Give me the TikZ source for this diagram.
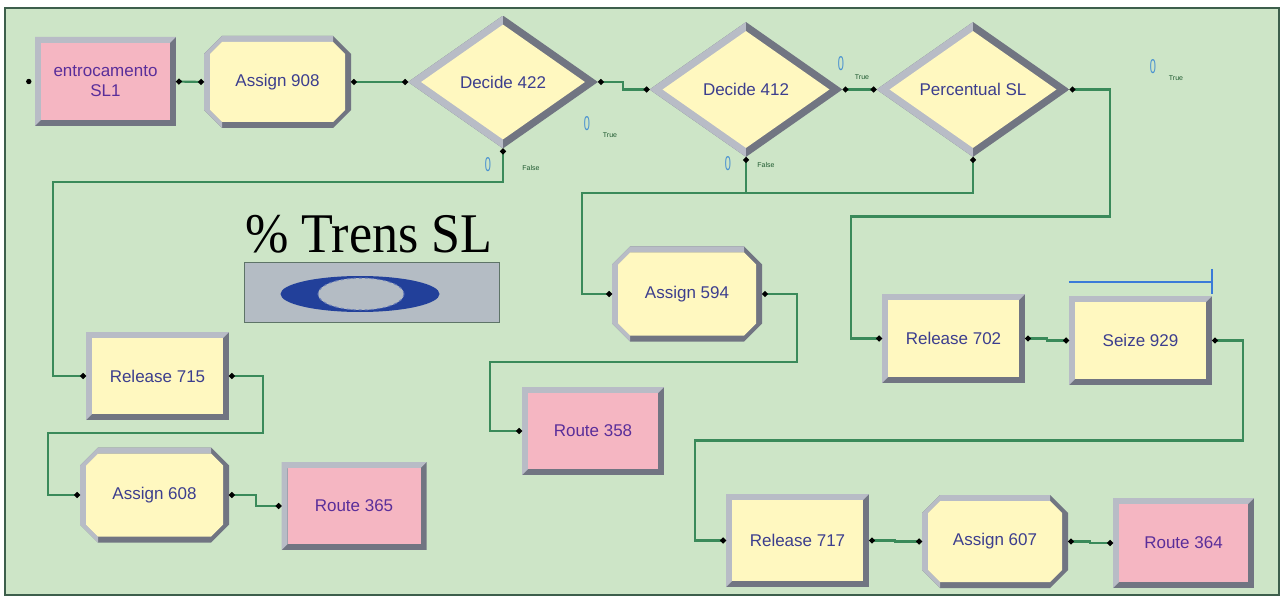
\documentclass[tikz,border=0pt]{standalone}
\usepackage{fontspec}
\setmainfont{Liberation Sans}
\newfontfamily\serifT{Liberation Serif}
\usetikzlibrary{shapes.geometric,arrows.meta,calc}
\definecolor{bg}{HTML}{CDE5C7}
\definecolor{frame}{HTML}{3D5F4C}
\definecolor{yel}{HTML}{FFF8C0}
\definecolor{pink}{HTML}{F5B6C2}
\definecolor{blight}{HTML}{B8BCC6}
\definecolor{bdark}{HTML}{717582}
\definecolor{txtyel}{HTML}{3C3E8E}
\definecolor{txtpink}{HTML}{5A2E9A}
\definecolor{lgreen}{HTML}{3A8A5A}
\definecolor{zblue}{HTML}{4A92D0}
\definecolor{tgreen}{HTML}{1F5A30}
\definecolor{ggray}{HTML}{B4BCC4}
\definecolor{rectedge}{HTML}{5E7468}
\definecolor{eblue}{HTML}{22409A}
\definecolor{qblue}{HTML}{3A7AD8}
\tikzset{
  mydot/.tip={Circle[length=5.5pt,color=black]},
  conn/.style={draw=lgreen, line width=2.2pt, mydot-mydot},
  lbl/.style={font=\fontsize{17}{20}\selectfont, align=center},
  rectbevel/.style={path picture={
    \fill[bdark] (path picture bounding box.south west) rectangle (path picture bounding box.north east);
    \fill[blight] (path picture bounding box.south west) -- (path picture bounding box.north west) -- (path picture bounding box.north east) -- ([xshift=-6pt,yshift=-6pt]path picture bounding box.north east) -- ([xshift=6pt,yshift=-6pt]path picture bounding box.north west) -- ([xshift=6pt,yshift=6pt]path picture bounding box.south west) -- cycle;
    \fill[#1] ([xshift=6pt,yshift=-6pt]path picture bounding box.north west) rectangle ([xshift=-6pt,yshift=6pt]path picture bounding box.south east);
  }},
  octbevel/.style={path picture={
    \fill[bdark] ([xshift=18pt]path picture bounding box.north west) -- ([xshift=-18pt]path picture bounding box.north east) -- ([yshift=-18pt]path picture bounding box.north east) -- ([yshift=18pt]path picture bounding box.south east) -- ([xshift=-18pt]path picture bounding box.south east) -- ([xshift=18pt]path picture bounding box.south west) -- ([yshift=18pt]path picture bounding box.south west) -- ([yshift=-18pt]path picture bounding box.north west) -- cycle;
    \fill[blight] ([xshift=18pt]path picture bounding box.south west) -- ([yshift=18pt]path picture bounding box.south west) -- ([yshift=-18pt]path picture bounding box.north west) -- ([xshift=18pt]path picture bounding box.north west) -- ([xshift=-18pt]path picture bounding box.north east) -- ([xshift=-18pt,yshift=-6pt]path picture bounding box.north east) -- ([xshift=18pt,yshift=-6pt]path picture bounding box.north west) -- ([xshift=6pt,yshift=-18pt]path picture bounding box.north west) -- ([xshift=6pt,yshift=18pt]path picture bounding box.south west) -- ([xshift=18pt,yshift=6pt]path picture bounding box.south west) -- cycle;
    \fill[#1] ([xshift=18pt,yshift=-6pt]path picture bounding box.north west) -- ([xshift=-18pt,yshift=-6pt]path picture bounding box.north east) -- ([xshift=-6pt,yshift=-18pt]path picture bounding box.north east) -- ([xshift=-6pt,yshift=18pt]path picture bounding box.south east) -- ([xshift=-18pt,yshift=6pt]path picture bounding box.south east) -- ([xshift=18pt,yshift=6pt]path picture bounding box.south west) -- ([xshift=6pt,yshift=18pt]path picture bounding box.south west) -- ([xshift=6pt,yshift=-18pt]path picture bounding box.north west) -- cycle;
  }},
  diabevel/.style={path picture={
    \fill[bdark] (path picture bounding box.south west) rectangle (path picture bounding box.north east);
    \fill[blight] (path picture bounding box.south west) rectangle (path picture bounding box.north);
    \fill[yel] ([xshift=13pt]path picture bounding box.west) -- ([yshift=-9pt]path picture bounding box.north) -- ([xshift=-13pt]path picture bounding box.east) -- ([yshift=9pt]path picture bounding box.south) -- cycle;
  }},
  ybox/.style={rectangle, inner sep=0pt, lbl, text=txtyel, rectbevel=yel},
  pbox/.style={rectangle, inner sep=0pt, lbl, text=txtpink, rectbevel=pink},
  obox/.style={rectangle, inner sep=0pt, lbl, text=txtyel, octbevel=yel},
  dbox/.style={diamond, aspect=1.43, inner sep=0pt, lbl, text=txtyel, diabevel},
  zero/.style={font=\fontsize{20}{20}\selectfont, text=zblue, xscale=0.55, inner sep=0pt},
  tf/.style={font=\fontsize{7}{7}\selectfont, text=tgreen, inner sep=0pt},
}
\begin{document}
\begin{tikzpicture}[x=1pt,y=-1pt]
\useasboundingbox (0,0) rectangle (1280,596);
\fill[white] (0,0) rectangle (1280,596);
\draw[fill=bg, draw=frame, line width=1.5pt] (5,8) rectangle (1279,595);

% top row
\node[pbox, minimum width=141pt, minimum height=89pt] (entro) at (105.5,81.5) {entrocamento\\SL1};
\node[obox, minimum width=147pt, minimum height=92pt] (a908) at (277.5,82) {Assign 908};
\node[dbox, minimum width=190pt, minimum height=133pt] (d422) at (503,82) {Decide 422};
\node[dbox, minimum width=193pt, minimum height=135pt] (d412) at (746,89.5) {Decide 412};
\node[dbox, minimum width=193pt, minimum height=135pt] (psl) at (973,89.5) {Percentual SL};

% left column
\node[ybox, minimum width=143pt, minimum height=88pt] (r715) at (157.5,376) {Release 715};
\node[obox, minimum width=149pt, minimum height=95pt] (a608) at (154.5,495) {Assign 608};
\node[pbox, minimum width=145pt, minimum height=88pt] (rt365) at (354,506) {Route 365};

% middle
\node[obox, minimum width=150pt, minimum height=95pt] (a594) at (687,294) {Assign 594};
\node[pbox, minimum width=142pt, minimum height=88pt] (rt358) at (593,431) {Route 358};

% right
\node[ybox, minimum width=143pt, minimum height=89pt] (r702) at (953.5,338.5) {Release 702};
\node[ybox, minimum width=143pt, minimum height=89pt] (s929) at (1140.5,340.5) {Seize 929};
\node[ybox, minimum width=143pt, minimum height=93pt] (r717) at (797.5,540.5) {Release 717};
\node[obox, minimum width=146pt, minimum height=93pt] (a607) at (995,541.5) {Assign 607};
\node[pbox, minimum width=141pt, minimum height=90pt] (rt364) at (1183.5,543) {Route 364};

% title and gauge
\node[font=\serifT\fontsize{56}{60}\selectfont, xscale=0.93, anchor=base, inner sep=0pt] (title) at (369,252) {\% Trens SL};
\node[draw=rectedge, fill=ggray, line width=1pt, minimum width=255pt, minimum height=59pt, inner sep=0pt] (gauge) at (371.5,292.5) {};
\fill[eblue] (360,294) ellipse [x radius=79.5, y radius=18];
\draw[fill=ggray, draw=eblue!70, dashed, line width=1pt] (361,294) ellipse [x radius=43, y radius=16];

% queue line over Seize
\draw[qblue, line width=1.5pt] ([yshift=14pt]s929.north west) -- ([yshift=14pt]s929.north east);
\draw[qblue, line width=1.5pt] ([yshift=27pt]s929.north east) -- ([yshift=2pt]s929.north east);

% decide labels
\node[zero] (z422t) at (587,124) {0};
\node[tf] (t422t) at (610,135) {True};
\node[zero] (z422f) at (488,165) {0};
\node[tf] (t422f) at (531,168) {False};
\node[zero] (z412t) at (841,64) {0};
\node[tf] (t412t) at (862,77) {True};
\node[zero] (z412f) at (728,164) {0};
\node[tf] (t412f) at (766,165) {False};
\node[zero] (zslt) at (1153,67) {0};
\node[tf] (tslt) at (1176,78) {True};

% connectors
\fill[black] ([xshift=-6pt]entro.west) circle (2.7pt);
\draw[conn] (entro.east) -- (a908.west);
\draw[conn] (a908.east) -- ++(25,0) |- (d422.west);
\draw[conn] (d422.east) -- ++(25,0) |- (d412.west);
\draw[conn] (d412.east) -- (psl.west);
\draw[conn] (d422.south) -- ++(0,33) -| ([xshift=-33pt]r715.west) -- (r715.west);
\draw[conn] (r715.east) -- ++(34,0) -- ++(0,57) -| ([xshift=-32pt]a608.west) -- (a608.west);
\draw[conn] (a608.east) -- ++(27,0) |- (rt365.west);
\draw[conn] (d412.south) -- ++(0,36) -| ([xshift=-30pt]a594.west) -- (a594.west);
\draw[draw=lgreen, line width=2.2pt, mydot-] (psl.south) -- ++(0,36) -- ([yshift=-36pt]d412.south);
\draw[conn] (a594.east) -- ++(35,0) -- ++(0,68) -| ([xshift=-32pt]rt358.west) -- (rt358.west);
\draw[conn] (psl.east) -- ++(40,0) -- ++(0,127) -| ([xshift=-31pt]r702.west) -- (r702.west);
\draw[conn] (r702.east) -- ++(22,0) |- (s929.west);
\draw[conn] (s929.east) -- ++(31,0) -- ++(0,100) -| ([xshift=-31pt]r717.west) -- (r717.west);
\draw[conn] (r717.east) -- ++(26,0) |- (a607.west);
\draw[conn] (a607.east) -- ++(22,0) |- (rt364.west);
\end{tikzpicture}
\end{document}
